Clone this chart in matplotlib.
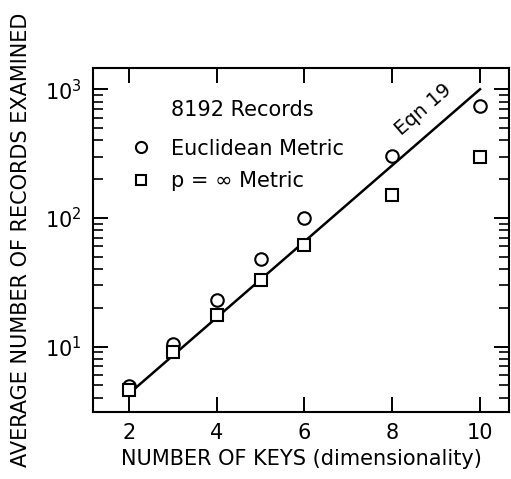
import matplotlib
matplotlib.use("Agg")
import matplotlib.pyplot as plt
from matplotlib.lines import Line2D
from matplotlib.ticker import LogLocator, NullFormatter

# data
keys = [2, 3, 4, 5, 6, 8, 10]
euclidean = [4.9, 10.4, 22.9, 48, 99, 305, 736]
p_inf = [4.6, 9.1, 17.5, 32.8, 62, 151, 300]

# "Eqn 19" prediction line
eqn_keys = [2, 10]
eqn_vals = [4.3, 1000]

x_ticks = [2, 4, 6, 8, 10]
x_ticklabels = ["2", "4", "6", "8", "10"]

plt.rcParams["font.family"] = ["DejaVu Sans"]
plt.rcParams["mathtext.default"] = "regular"

fig = plt.figure(figsize=(5.11, 4.79), dpi=100)
ax = fig.add_axes([0.182, 0.140, 0.814, 0.717])

ax.plot(eqn_keys, eqn_vals, color="black", linewidth=1.8)
ax.plot(keys, euclidean, linestyle="none", marker="o", markersize=9,
        markerfacecolor="white", markeredgecolor="black", markeredgewidth=1.5)
ax.plot(keys, p_inf, linestyle="none", marker="s", markersize=9,
        markerfacecolor="white", markeredgecolor="black", markeredgewidth=1.5)

ax.set_yscale("log")
ax.set_xlim(1.18, 10.66)
ax.set_ylim(3.1, 1450)

ax.set_xticks(x_ticks)
ax.set_xticklabels(x_ticklabels)
ax.yaxis.set_major_locator(LogLocator(base=10, numticks=10))
ax.yaxis.set_minor_locator(LogLocator(base=10, subs=range(2, 10), numticks=10))
ax.yaxis.set_minor_formatter(NullFormatter())

ax.tick_params(axis="both", which="major", direction="in", length=11, width=1.4,
               labelsize=15, top=True, right=True, pad=8)
ax.tick_params(axis="y", which="minor", direction="in", length=7, width=1.2,
               right=True)
ax.tick_params(axis="x", which="minor", bottom=False, top=False)
for spine in ax.spines.values():
    spine.set_linewidth(1.5)

ax.set_xlabel("NUMBER OF KEYS (dimensionality)", fontsize=15, labelpad=4)
ax.set_ylabel("AVERAGE NUMBER OF RECORDS EXAMINED", fontsize=15, labelpad=10)

ax.text(8.7, 700, "Eqn 19", rotation=41, fontsize=14,
        ha="center", va="center", rotation_mode="anchor")
ax.text(0.187, 0.88, "8192 Records", transform=ax.transAxes,
        fontsize=15, ha="left", va="center")

handles = [
    Line2D([], [], linestyle="none", marker="o", markersize=8,
           markerfacecolor="white", markeredgecolor="black", markeredgewidth=1.5),
    Line2D([], [], linestyle="none", marker="s", markersize=7,
           markerfacecolor="white", markeredgecolor="black", markeredgewidth=1.5),
]
ax.legend(handles, ["Euclidean Metric", "p = \u221e Metric"], loc="upper left",
          bbox_to_anchor=(0.07, 0.82), frameon=False, fontsize=15,
          handlelength=1.0, handletextpad=0.95, labelspacing=0.6,
          borderaxespad=0)

fig.savefig("out.png", dpi=100)
